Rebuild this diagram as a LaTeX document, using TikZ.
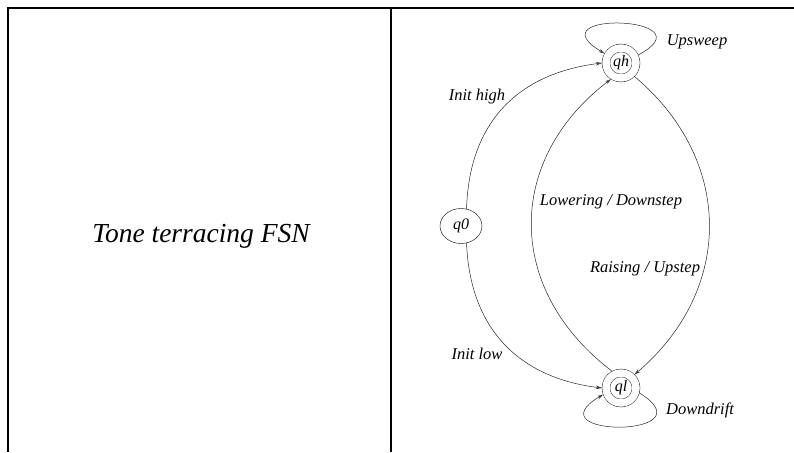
\documentclass[tikz,border=0pt]{standalone}
\usepackage{fontspec}
\setmainfont{Liberation Serif}
\usetikzlibrary{arrows.meta,shapes.geometric}
\begin{document}
\begin{tikzpicture}[x=1pt,y=-1pt,
	state/.style = {draw, circle, minimum size=30pt, inner sep=0pt, font=\itshape\fontsize{16}{18}\selectfont},
	final/.style = {state, double, double distance=7.5pt, outer sep=4pt},
	trans/.style = {draw=black!85, line width=.5pt, -{Stealth[length=6pt,width=3.5pt,open]}},
	lab/.style = {font=\itshape\fontsize{16.5}{19}\selectfont, inner sep=0pt}]
			\useasboundingbox (0,0) rectangle (794,452);
			\draw[line width=1.2pt] (8,452) -- (8,8) -- (794,8);
			\draw[line width=1.2pt] (391,8) -- (391,452);
			\node[anchor=base] (title) at (201,242) {\itshape\fontsize{27.5}{32}\selectfont Tone terracing FSN};
			\node[draw, ellipse, minimum width=42pt, minimum height=35pt, inner sep=0pt, font=\itshape\fontsize{16}{18}\selectfont] (q0) at (461,226) {q0};
			\node[final] (qh) at (621,63) {qh};
			\node[final] (ql) at (621,388) {ql};
			\draw[trans] (q0.72) .. controls (469,125) and (515,74) .. (qh.west);
			\draw[trans] (q0.-72) .. controls (470,330) and (520,378) .. (ql.west);
			\draw[trans] (ql.118) .. controls (505,290) and (505,160) .. (qh.238);
			\draw[trans] (qh.-45) .. controls (734,160) and (734,290) .. (ql.45);
			\draw[trans] (qh.25) .. controls (712,16) and (532,10) .. (qh.150);
			\draw[trans] (ql.-15) .. controls (712,438) and (530,438) .. (ql.200);
			\node[lab] (lup) at (697,42) {Upsweep};
			\node[lab] (ldown) at (700,410) {Downdrift};
			\node[lab] (lhigh) at (477,97) {Init high};
			\node[lab] (llow) at (477,354) {Init low};
			\node[lab] (llower) at (611,202) {Lowering / Downstep};
			\node[lab] (lraise) at (645,269) {Raising / Upstep};
\end{tikzpicture}
\end{document}
